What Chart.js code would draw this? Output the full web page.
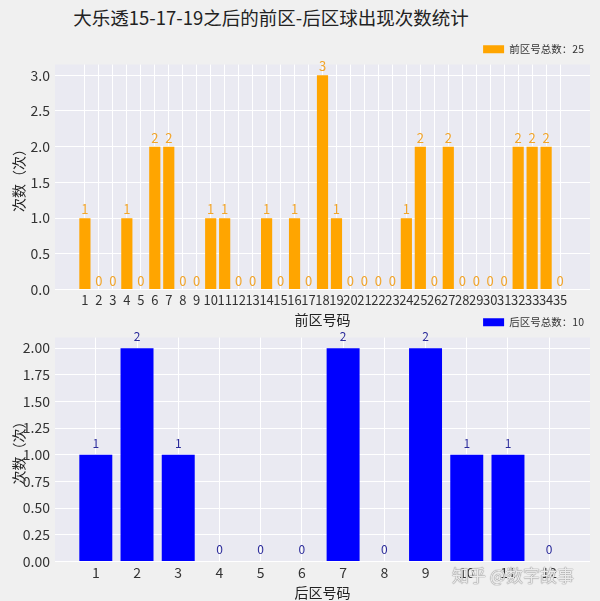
<!DOCTYPE html>
<html>
<head>
<meta charset="utf-8">
<script src="https://cdn.jsdelivr.net/npm/chart.js@4.4.1/dist/chart.umd.min.js"></script>
<style>
    body { margin: 0; background: #f0f0f0; width: 600px; height: 601px; overflow: hidden; position: relative;
           font-family: 'Noto Sans CJK SC', sans-serif; }
    #titulo { position: absolute; left: 0; top: 4px; width: 542px; text-align: center; font-size: 18.5px; color: #222; }
    canvas { position: absolute; left: 0; }
    #frontChart { top: 38px; }
    #backChart { top: 311px; }
    #marca { position: absolute; left: 452px; top: 562px; font-size: 17px; color: rgba(255,255,255,0.85);
             text-shadow: 0 0 1px #777, 0 0 1px #777; }
</style>
</head>
<body>
<div id="titulo">大乐透15-17-19之后的前区-后区球出现次数统计</div>
<canvas id="frontChart" width="600" height="290"></canvas>
<canvas id="backChart" width="600" height="290"></canvas>
<div id="marca">知乎 @数字故事</div>
<script>
// Dados
const frontNums = [1, 2, 3, 4, 5, 6, 7, 8, 9, 10, 11, 12, 13, 14, 15, 16, 17, 18, 19, 20,
                   21, 22, 23, 24, 25, 26, 27, 28, 29, 30, 31, 32, 33, 34, 35];
const frontCounts = [1, 0, 0, 1, 0, 2, 2, 0, 0, 1, 1, 0, 0, 1, 0, 1, 0, 3, 1, 0,
                     0, 0, 0, 1, 2, 0, 2, 0, 0, 0, 0, 2, 2, 2, 0];
const backNums = [1, 2, 3, 4, 5, 6, 7, 8, 9, 10, 11, 12];
const backCounts = [1, 2, 1, 0, 0, 0, 2, 0, 2, 1, 1, 0];
const frontYTicks = [0, 0.5, 1, 1.5, 2, 2.5, 3];
const backYTicks = [0, 0.25, 0.5, 0.75, 1, 1.25, 1.5, 1.75, 2];

const fonte = "'Noto Sans CJK SC', sans-serif";
Chart.defaults.font.family = fonte;
Chart.defaults.color = '#333';

const soma = arr => arr.reduce((a, b) => a + b, 0);

// fundo da área do gráfico
const fundoPlot = {
    id: 'fundoPlot',
    beforeDraw(chart) {
        const { ctx, chartArea: a } = chart;
        ctx.save();
        ctx.fillStyle = '#eaeaf2';
        ctx.fillRect(a.left, a.top, a.right - a.left, a.bottom - a.top);
        ctx.restore();
    }
};

// rótulos de valor acima das barras
const rotulos = {
    id: 'rotulos',
    afterDatasetsDraw(chart, args, opts) {
        const { ctx } = chart;
        const meta = chart.getDatasetMeta(0);
        ctx.save();
        ctx.fillStyle = opts.color;
        ctx.font = opts.size + 'px ' + fonte;
        ctx.textAlign = 'center';
        ctx.textBaseline = 'alphabetic';
        meta.data.forEach((bar, i) => {
            ctx.fillText(String(chart.data.datasets[0].data[i].y), bar.x, bar.y - opts.gap);
        });
        ctx.restore();
    }
};

function criarGrafico(id, nums, counts, cor, legenda, xMin, xMax, yMax, yTicks, casas, xTitulo, xFonte, rot) {
    const ctx = document.getElementById(id).getContext('2d');
    return new Chart(ctx, {
        type: 'bar',
        data: {
            datasets: [{
                label: legenda,
                data: nums.map((n, i) => ({ x: n, y: counts[i] })),
                backgroundColor: cor,
                borderWidth: 0,
                barPercentage: 0.8,
                categoryPercentage: 1.0
            }]
        },
        options: {
            responsive: false,
            animation: false,
            layout: { padding: { right: 10, left: 0, top: 0, bottom: 0 } },
            plugins: {
                legend: {
                    position: 'top',
                    align: 'end',
                    labels: { boxWidth: 21, boxHeight: 8, padding: 6, font: { size: 10.5 }, color: '#333' }
                },
                tooltip: { enabled: false },
                rotulos: rot
            },
            scales: {
                x: {
                    type: 'linear',
                    offset: false,
                    min: xMin,
                    max: xMax,
                    afterBuildTicks: axis => { axis.ticks = nums.map(v => ({ value: v })); },
                    ticks: { autoSkip: false, maxRotation: 0, padding: 3, font: { size: xFonte },
                             callback: v => String(v) },
                    grid: { color: '#ffffff', lineWidth: 1, drawTicks: false, offset: false },
                    border: { display: false },
                    title: { display: true, text: xTitulo, font: { size: 14 }, color: '#222',
                             padding: { top: 0, bottom: 0 } }
                },
                y: {
                    min: 0,
                    max: yMax,
                    afterBuildTicks: axis => { axis.ticks = yTicks.map(v => ({ value: v })); },
                    afterFit: scale => { scale.width = 55; },
                    ticks: { padding: 5, font: { size: 14 }, callback: v => v.toFixed(casas) },
                    grid: { color: '#ffffff', lineWidth: 1, drawTicks: false },
                    border: { display: false },
                    title: { display: true, text: '次数（次）', font: { size: 14 }, color: '#222',
                             padding: { top: 10, bottom: 0 } }
                }
            }
        },
        plugins: [fundoPlot, rotulos]
    });
}

criarGrafico('frontChart', frontNums, frontCounts, '#ffa500', '前区号总数：' + soma(frontCounts),
    -1.14, 37.14, 3.15, frontYTicks, 1, '前区号码', 13,
    { color: '#f2a52a', size: 13, gap: 4 });

criarGrafico('backChart', backNums, backCounts, '#0000ff', '后区号总数：' + soma(backCounts),
    0.01, 12.99, 2.1, backYTicks, 2, '后区号码', 14,
    { color: '#2a2a9a', size: 12, gap: 7 });
</script>
</body>
</html>
